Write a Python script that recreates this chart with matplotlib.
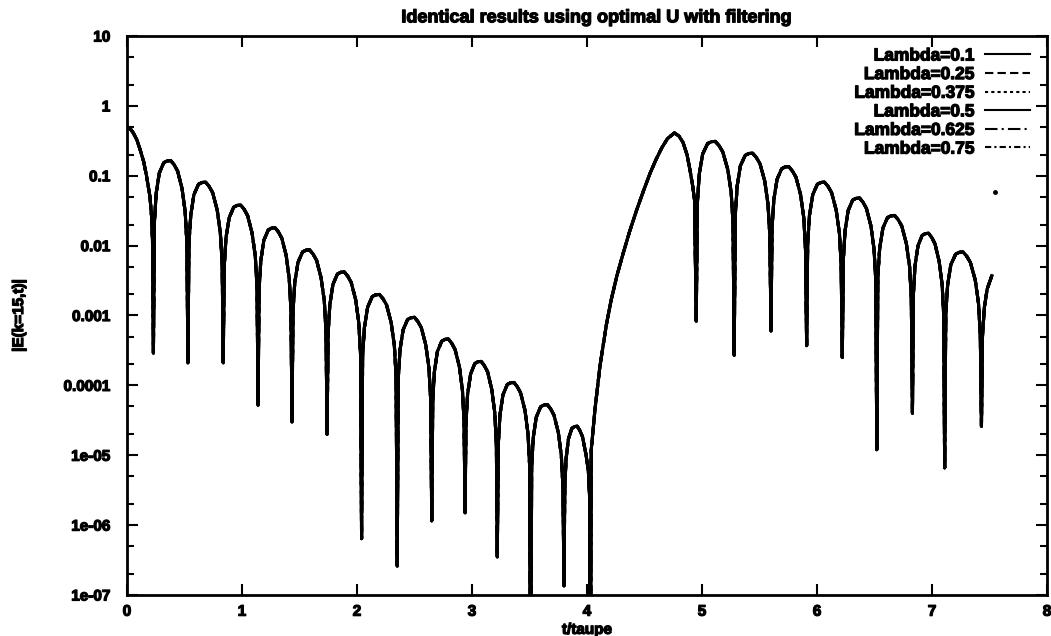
import numpy as np
import matplotlib
matplotlib.use("Agg")
import matplotlib.pyplot as plt
import matplotlib.patheffects as pe
from matplotlib.ticker import FixedLocator, LogLocator, NullFormatter

plt.rcParams['font.family'] = ['Liberation Sans', 'DejaVu Sans']
plt.rcParams['font.weight'] = 'bold'

# |E(k=15,t)| against t/taupe, same for every lambda
# one row per lobe, the single values between rows are the nulls
t_taupe = [
    0.000, 0.025, 0.055, 0.085, 0.113, 0.145, 0.170, 0.200, 0.215, 0.222,
    0.230,
    0.239, 0.254, 0.281, 0.320, 0.350, 0.380, 0.410, 0.440, 0.479, 0.506, 0.521,
    0.530,
    0.539, 0.555, 0.582, 0.622, 0.653, 0.684, 0.714, 0.745, 0.785, 0.812, 0.828,
    0.837,
    0.846, 0.861, 0.889, 0.928, 0.958, 0.989, 1.019, 1.049, 1.088, 1.116, 1.131,
    1.140,
    1.149, 1.164, 1.190, 1.229, 1.258, 1.288, 1.317, 1.347, 1.385, 1.411, 1.426,
    1.435,
    1.444, 1.459, 1.487, 1.527, 1.557, 1.588, 1.618, 1.649, 1.688, 1.716, 1.731,
    1.740,
    1.749, 1.764, 1.791, 1.830, 1.860, 1.890, 1.920, 1.950, 1.989, 2.016, 2.031,
    2.040,
    2.049, 2.065, 2.093, 2.133, 2.164, 2.195, 2.226, 2.257, 2.297, 2.325, 2.340,
    2.350,
    2.359, 2.374, 2.401, 2.440, 2.470, 2.500, 2.530, 2.560, 2.599, 2.626, 2.641,
    2.650,
    2.659, 2.673, 2.699, 2.737, 2.766, 2.795, 2.824, 2.853, 2.891, 2.917, 2.931,
    2.940,
    2.948, 2.962, 2.988, 3.024, 3.052, 3.080, 3.108, 3.136, 3.172, 3.198, 3.212,
    3.220,
    3.229, 3.243, 3.269, 3.307, 3.336, 3.365, 3.394, 3.423, 3.461, 3.487, 3.501,
    3.510,
    3.519, 3.533, 3.559, 3.597, 3.626, 3.655, 3.684, 3.713, 3.751, 3.777, 3.791,
    3.800,
    3.807, 3.818, 3.839, 3.869, 3.892, 3.915, 3.938, 3.961, 3.991, 4.012, 4.023,
    4.030,
    4.037, 4.070, 4.113, 4.170, 4.210, 4.260, 4.316, 4.370, 4.430, 4.490, 4.550,
    4.600, 4.650, 4.700, 4.760, 4.800, 4.835, 4.870, 4.896, 4.920, 4.935,
    4.950,
    4.960, 4.976, 5.006, 5.049, 5.082, 5.115, 5.148, 5.181, 5.224, 5.254, 5.270,
    5.280,
    5.290, 5.306, 5.334, 5.376, 5.408, 5.440, 5.472, 5.504, 5.546, 5.574, 5.590,
    5.600,
    5.609, 5.625, 5.653, 5.693, 5.724, 5.755, 5.786, 5.817, 5.857, 5.885, 5.900,
    5.910,
    5.919, 5.935, 5.963, 6.003, 6.034, 6.065, 6.096, 6.127, 6.167, 6.195, 6.210,
    6.220,
    6.229, 6.244, 6.271, 6.310, 6.340, 6.370, 6.400, 6.430, 6.469, 6.496, 6.511,
    6.520,
    6.529, 6.545, 6.573, 6.613, 6.644, 6.675, 6.706, 6.737, 6.777, 6.805, 6.820,
    6.830,
    6.838, 6.852, 6.878, 6.914, 6.942, 6.970, 6.998, 7.026, 7.062, 7.088, 7.102,
    7.110,
    7.120, 7.136, 7.164, 7.206, 7.238, 7.270, 7.302, 7.334, 7.376, 7.404, 7.420,
    7.430,
    7.439, 7.455, 7.480, 7.520,
]
e_abs = [
    0.50, 0.48, 0.41, 0.33, 0.24, 0.16, 0.10, 0.05, 0.025, 0.012,
    2.9e-4,
    0.0218, 0.0559, 0.109, 0.154, 0.163, 0.165, 0.144, 0.117, 0.0657, 0.0307, 0.0109,
    2.1e-4,
    0.0107, 0.0275, 0.0535, 0.0756, 0.080, 0.081, 0.0705, 0.0573, 0.0322, 0.0151, 0.00535,
    2.1e-4,
    0.00502, 0.0129, 0.0251, 0.0355, 0.0376, 0.038, 0.0331, 0.0269, 0.0151, 0.00707, 0.00251,
    5.2e-5,
    0.00238, 0.0061, 0.0119, 0.0168, 0.0178, 0.018, 0.0157, 0.0127, 0.00716, 0.00335, 0.00119,
    3.0e-5,
    0.00115, 0.00295, 0.00575, 0.00812, 0.0086, 0.0087, 0.00757, 0.00616, 0.00346, 0.00162, 5.74e-4,
    2.0e-5,
    5.54e-4, 1.42e-3, 2.78e-3, 3.92e-3, 4.16e-3, 4.2e-3, 3.65e-3, 2.97e-3, 1.67e-3, 7.81e-4, 2.77e-4,
    6.4e-7,
    2.64e-4, 6.78e-4, 1.32e-3, 1.87e-3, 1.98e-3, 2.0e-3, 1.74e-3, 1.42e-3, 7.96e-4, 3.72e-4, 1.32e-4,
    2.6e-7,
    1.24e-4, 3.19e-4, 6.21e-4, 8.77e-4, 9.3e-4, 9.4e-4, 8.18e-4, 6.66e-4, 3.74e-4, 1.75e-4, 6.2e-5,
    1.15e-6,
    6.07e-5, 1.56e-4, 3.04e-4, 4.29e-4, 4.55e-4, 4.6e-4, 4.0e-4, 3.26e-4, 1.83e-4, 8.56e-5, 3.04e-5,
    1.5e-6,
    2.9e-5, 7.46e-5, 1.45e-4, 2.05e-4, 2.18e-4, 2.2e-4, 1.91e-4, 1.56e-4, 8.76e-5, 4.09e-5, 1.45e-5,
    3.5e-7,
    1.45e-5, 3.73e-5, 7.27e-5, 1.03e-4, 1.09e-4, 1.1e-4, 9.57e-5, 7.79e-5, 4.38e-5, 2.05e-5, 7.26e-6,
    1e-9,
    7.0e-6, 1.8e-5, 3.5e-5, 4.94e-5, 5.25e-5, 5.3e-5, 4.61e-5, 3.75e-5, 2.11e-5, 9.86e-6, 3.5e-6,
    1.35e-7,
    3.43e-6, 8.81e-6, 1.72e-5, 2.43e-5, 2.57e-5, 2.6e-5, 2.26e-5, 1.84e-5, 1.03e-5, 6.0e-6, 2.5e-6,
    1e-9,
    1.2e-5, 4.6e-5, 1.9e-4, 7.6e-4, 1.66e-3, 3.7e-3, 7.9e-3, 0.0158, 0.0316, 0.060, 0.11,
    0.17, 0.25, 0.34, 0.41, 0.37, 0.30, 0.20, 0.12, 0.07, 0.045,
    8.3e-4,
    0.0409, 0.105, 0.205, 0.289, 0.307, 0.31, 0.27, 0.219, 0.123, 0.0577, 0.0205,
    2.7e-4,
    0.0277, 0.0712, 0.139, 0.196, 0.208, 0.21, 0.183, 0.149, 0.0836, 0.0391, 0.0139,
    6.0e-4,
    0.0178, 0.0458, 0.0892, 0.126, 0.134, 0.135, 0.117, 0.0956, 0.0537, 0.0251, 0.00891,
    3.7e-4,
    0.0107, 0.0275, 0.0535, 0.0756, 0.080, 0.081, 0.0705, 0.0573, 0.0322, 0.0151, 0.00535,
    2.5e-4,
    0.00634, 0.0163, 0.0317, 0.0448, 0.0475, 0.048, 0.0418, 0.034, 0.0191, 0.00893, 0.00317,
    1.2e-5,
    0.00356, 0.00915, 0.0178, 0.0252, 0.0267, 0.027, 0.0235, 0.0191, 0.0107, 0.00502, 0.00178,
    4.0e-5,
    0.00198, 0.00509, 0.00992, 0.014, 0.01485, 0.015, 0.01305, 0.0106, 0.00597, 0.00279, 9.9e-4,
    6.6e-6,
    0.00107, 0.00275, 0.00535, 0.00756, 0.00802, 0.0081, 0.00705, 0.00573, 0.00322, 0.00151, 5.35e-4,
    2.6e-5,
    5.0e-4, 1.3e-3, 2.4e-3, 3.7e-3,
]

lambdas = ["0.1", "0.25", "0.375", "0.5", "0.625", "0.75"]
styles = ['-', (0, (4, 2)), (0, (1.5, 1.5)), '-', (0, (6, 2, 1, 2)), (0, (3, 1.5, 1, 1.5))]

stray_point = (7.55, 0.059)

yticks = [1e-7, 1e-6, 1e-5, 1e-4, 1e-3, 1e-2, 1e-1, 1, 10]
ytick_labels = ["1e-07", "1e-06", "1e-05", "0.0001", "0.001", "0.01", "0.1", "1", "10"]
xticks = [0, 1, 2, 3, 4, 5, 6, 7, 8]

assert len(t_taupe) == len(e_abs)

bold = [pe.withStroke(linewidth=0.9, foreground='black')]

fig = plt.figure(figsize=(10.51, 6.36), dpi=100)
ax = fig.add_axes([0.1208, 0.0645, 0.8754, 0.8789])

t = np.array(t_taupe)
e = np.array(e_abs)
# dashed ones first so the solid curves end up on top
order = [1, 2, 4, 5, 0, 3]
for i in order:
    ax.plot(t, e, color='black', linestyle=styles[i], linewidth=2.2,
            solid_joinstyle='round', dash_joinstyle='round',
            label="Lambda=" + lambdas[i], zorder=2 + (i in (0, 3)))
ax.plot([stray_point[0]], [stray_point[1]], 'o', color='black', markersize=2.5)

ax.set_yscale('log')
ax.set_xlim(0, 8)
ax.set_ylim(1e-7, 10)
ax.yaxis.set_major_locator(FixedLocator(yticks))
ax.set_yticklabels(ytick_labels)
ax.yaxis.set_minor_locator(LogLocator(base=10, subs=(2, 5)))
ax.yaxis.set_minor_formatter(NullFormatter())
ax.set_xticks(xticks)
ax.set_xticklabels([str(v) for v in xticks])

ax.tick_params(which='both', direction='in', top=True, right=True, labelsize=11)
ax.tick_params(which='major', length=8, width=1.5)
ax.tick_params(which='minor', length=5, width=1.5)
ax.tick_params(axis='y', pad=12)
ax.tick_params(axis='x', pad=7)
for sp in ax.spines.values():
    sp.set_linewidth(2.0)
for lab in ax.get_xticklabels() + ax.get_yticklabels():
    lab.set_path_effects(bold)

ax.set_xlabel("t/taupe", fontsize=11, fontweight='bold', labelpad=3,
              path_effects=bold)
ax.set_ylabel("|E(k=15,t)|", fontsize=11, fontweight='bold', labelpad=27,
              path_effects=bold)
fig.text(0.567, 0.972, "Identical results using optimal U with filtering",
         ha='center', va='center', fontsize=13, fontweight='bold',
         path_effects=bold)

handles, labels = ax.get_legend_handles_labels()
by_label = dict(zip(labels, handles))
leg = ax.legend([by_label["Lambda=" + l] for l in lambdas],
                ["Lambda=" + l for l in lambdas],
                loc='upper right', bbox_to_anchor=(0.982, 0.978),
                frameon=False, markerfirst=False, fontsize=12.5,
                handlelength=2.6, handletextpad=0.6, labelspacing=0.2,
                borderpad=0, borderaxespad=0)
for line in leg.get_lines():
    line.set_linewidth(1.5)
for txt in leg.get_texts():
    txt.set_path_effects(bold)

fig.savefig("out.png", dpi=100)
